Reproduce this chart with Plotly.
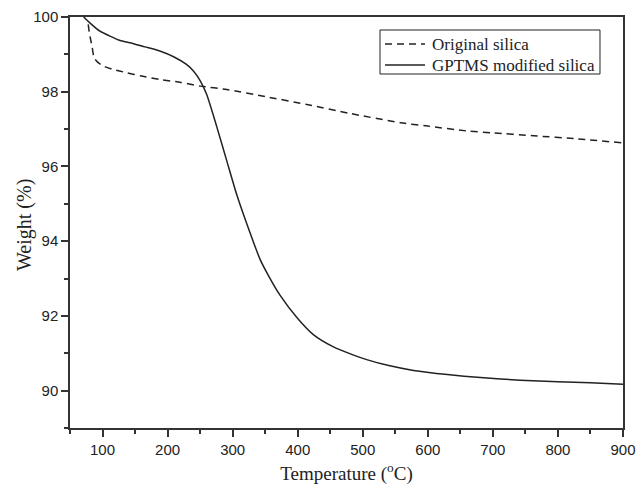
import plotly.graph_objects as go

temp_orig = [78, 80, 84, 87, 92, 101, 115, 137, 160, 188, 220, 250, 291, 350, 414, 480, 558, 600, 660, 700, 763, 830, 900]
weight_orig = [99.8, 99.55, 99.2, 98.91, 98.8, 98.69, 98.6, 98.51, 98.42, 98.33, 98.25, 98.15, 98.06, 97.87, 97.66, 97.42, 97.17, 97.08, 96.95, 96.9, 96.82, 96.74, 96.63]

temp_mod = [71, 80, 96, 110, 127, 142, 165, 188, 210, 229, 240, 250, 260, 276, 291, 306, 322, 342, 355, 373, 400, 424, 455, 486, 506, 540, 578, 630, 681, 742, 800, 850, 900]
weight_mod = [100.0, 99.85, 99.62, 99.5, 99.37, 99.31, 99.2, 99.09, 98.93, 98.73, 98.55, 98.3, 97.93, 97.04, 96.15, 95.26, 94.45, 93.52, 93.08, 92.55, 91.93, 91.5, 91.17, 90.95, 90.83, 90.67, 90.54, 90.43, 90.35, 90.28, 90.24, 90.21, 90.17]

series_names = ["Original silica", "GPTMS modified silica"]
x_ticks = [100, 200, 300, 400, 500, 600, 700, 800, 900]
y_ticks = [90, 92, 94, 96, 98, 100]

INK = "#222222"
DASH = "7px,5px"
SERIF = "Liberation Serif, Times New Roman, serif"

fig = go.Figure()
fig.add_trace(go.Scatter(x=temp_orig, y=weight_orig, mode="lines", name=series_names[0], showlegend=False,
                         line=dict(color=INK, width=1.5, dash=DASH, shape="spline", smoothing=0.6)))
fig.add_trace(go.Scatter(x=temp_mod, y=weight_mod, mode="lines", name=series_names[1], showlegend=False,
                         line=dict(color=INK, width=1.5, shape="spline", smoothing=0.6)))

axis_common = dict(showgrid=False, zeroline=False, showline=True, linecolor="#333333", linewidth=1.5,
                   mirror=True, ticks="outside", tickcolor="#333333", tickwidth=1.5, ticklen=7,
                   automargin=False, ticklabeloverflow="allow",
                   tickfont=dict(family="Liberation Sans, Arial", size=15, color=INK))

fig.update_xaxes(range=[50, 900], tickvals=x_ticks, **axis_common,
                 minor=dict(ticks="outside", tickvals=[50, 150, 250, 350, 450, 550, 650, 750, 850],
                            ticklen=4, tickcolor="#333333", tickwidth=1.5),
                 title=dict(text="Temperature (<sup>o</sup>C)", standoff=11,
                            font=dict(family=SERIF, size=19, color=INK)))
fig.update_yaxes(range=[89, 100], tickvals=y_ticks, **axis_common,
                 minor=dict(ticks="outside", tickvals=[89, 91, 93, 95, 97, 99],
                            ticklen=4, tickcolor="#333333", tickwidth=1.5))

# y-axis title
fig.add_annotation(text="Weight (%)", xref="paper", yref="paper", x=-0.0814, y=0.494,
                   textangle=-90, showarrow=False, xanchor="center", yanchor="middle",
                   font=dict(family=SERIF, size=20, color=INK))

# legend box (drawn as layout decoration)
fig.add_shape(type="rect", xref="paper", yref="paper", x0=0.5606, x1=0.9584, y0=0.8613, y1=0.9684,
              line=dict(color=INK, width=1), fillcolor="white", layer="above")
legend_rows = [0.9343, 0.8832]
legend_dashes = [DASH, "solid"]
for name, ry, dsh in zip(series_names, legend_rows, legend_dashes):
    fig.add_shape(type="line", xref="paper", yref="paper", x0=0.5696, x1=0.6419, y0=ry, y1=ry,
                  line=dict(color=INK, width=1.5, dash=dsh), layer="above")
    fig.add_annotation(text=name, xref="paper", yref="paper", x=0.651, y=ry, showarrow=False,
                       xanchor="left", yanchor="middle",
                       font=dict(family=SERIF, size=17, color=INK))

fig.update_layout(
    width=636, height=485,
    margin=dict(l=70, r=13, t=17, b=57),
    plot_bgcolor="white", paper_bgcolor="white",
    showlegend=False,
)

# remove the default 8px page margin so the figure fills the window exactly; hide the mode bar
fig.write_html("out.html", config={"displayModeBar": False},
               post_script="document.body.style.margin='0px';document.body.style.overflow='hidden';")
